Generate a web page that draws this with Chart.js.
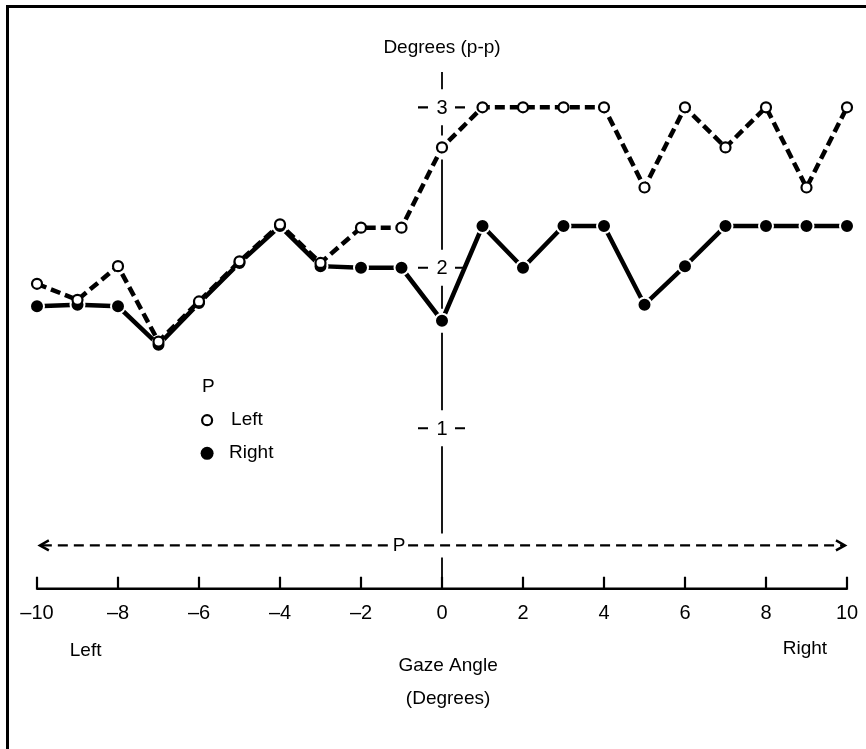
<!DOCTYPE html>
<html>
<head>
<meta charset="utf-8">
<script src="https://cdn.jsdelivr.net/npm/chart.js@4"></script>
<style>
  html, body { margin: 0; padding: 0; background: #fff; overflow: hidden; }
  #wrap { position: relative; width: 866px; height: 749px; }
  #frame { position: absolute; left: 6px; top: 5px; width: 900px; height: 800px;
           border-left: 3px solid #000; border-top: 3px solid #000; pointer-events: none; }
  canvas { position: absolute; left: 0; top: 0; }
</style>
</head>
<body>
<div id="wrap">
  <canvas id="gazeChart" width="866" height="749"></canvas>
  <div id="frame"></div>
</div>
<script>
// gaze angle (degrees), one reading per degree
const gazeAngles = [-10, -9, -8, -7, -6, -5, -4, -3, -2, -1, 0, 1, 2, 3, 4, 5, 6, 7, 8, 9, 10];
// peak-to-peak amplitude, degrees
const leftEye  = [1.90, 1.80, 2.01, 1.54, 1.79, 2.04, 2.27, 2.03, 2.25, 2.25, 2.75, 3.00, 3.00, 3.00, 3.00, 2.50, 3.00, 2.75, 3.00, 2.50, 3.00];
const rightEye = [1.76, 1.77, 1.76, 1.52, 1.78, 2.03, 2.26, 2.01, 2.00, 2.00, 1.67, 2.26, 2.00, 2.26, 2.26, 1.77, 2.01, 2.26, 2.26, 2.26, 2.26];

const xTickValues = [-10, -8, -6, -4, -2, 0, 2, 4, 6, 8, 10];
const xTickLabels = ['\u201310', '\u20138', '\u20136', '\u20134', '\u20132', '0', '2', '4', '6', '8', '10'];
const yTickValues = [1, 2, 3];
const pLineLevel = 0.27;   // level of the dashed "P" line

const FONT = "'Liberation Sans', Arial, Helvetica, sans-serif";

function drawVLine(ctx, x0, top, bottom, gaps) {
    gaps.sort((a, b) => a[0] - b[0]);
    let cur = top;
    ctx.beginPath();
    gaps.forEach(([c, h]) => {
        if (c - h > cur) { ctx.moveTo(x0, cur); ctx.lineTo(x0, c - h); }
        cur = Math.max(cur, c + h);
    });
    if (cur < bottom) { ctx.moveTo(x0, cur); ctx.lineTo(x0, bottom); }
    ctx.stroke();
}

const decorations = {
    id: 'decorations',
    beforeDatasetsDraw(chart) {
        const { ctx, scales: { x, y } } = chart;
        const cx = x.getPixelForValue(0);
        const base = y.getPixelForValue(0);
        const pY = y.getPixelForValue(pLineLevel);
        ctx.save();
        ctx.strokeStyle = '#000';
        ctx.fillStyle = '#000';

        // central vertical axis, broken at labels, P line and points on it
        const zeroIdx = gazeAngles.indexOf(0);
        const gaps = yTickValues.map(v => [y.getPixelForValue(v), 18]);
        gaps.push([pY, 12]);
        gaps.push([y.getPixelForValue(leftEye[zeroIdx]), 12]);
        gaps.push([y.getPixelForValue(rightEye[zeroIdx]), 12]);
        ctx.lineWidth = 1.8;
        drawVLine(ctx, cx, y.getPixelForValue(3.22), base, gaps);

        // y labels "- n -"
        ctx.font = '20px ' + FONT;
        ctx.textAlign = 'center';
        ctx.textBaseline = 'middle';
        ctx.lineWidth = 2.2;
        yTickValues.forEach(v => {
            const py = y.getPixelForValue(v);
            ctx.fillText(String(v), cx, py + 1);
            ctx.beginPath();
            ctx.moveTo(cx - 24, py); ctx.lineTo(cx - 14, py);
            ctx.moveTo(cx + 13, py); ctx.lineTo(cx + 23, py);
            ctx.stroke();
        });

        // axis title on top
        ctx.font = '19px ' + FONT;
        ctx.fillText('Degrees (p-p)', cx, y.getPixelForValue(3.37));

        // x axis baseline with upward ticks
        ctx.lineWidth = 2.5;
        ctx.beginPath();
        ctx.moveTo(x.getPixelForValue(-10), base);
        ctx.lineTo(x.getPixelForValue(10), base);
        ctx.stroke();
        ctx.lineWidth = 2.2;
        ctx.beginPath();
        xTickValues.forEach(v => {
            const px = x.getPixelForValue(v);
            ctx.moveTo(px, base + 1);
            ctx.lineTo(px, base - 12);
        });
        ctx.stroke();
        ctx.font = '20px ' + FONT;
        xTickValues.forEach((v, i) => {
            ctx.fillText(xTickLabels[i], x.getPixelForValue(v), base + 25);
        });
        ctx.font = '19px ' + FONT;
        ctx.fillText('Left', x.getPixelForValue(-8.8), base + 62);
        ctx.fillText('Right', x.getPixelForValue(8.96), base + 60);
        ctx.fillText('Gaze Angle', x.getPixelForValue(0.15), base + 77);
        ctx.fillText('(Degrees)', x.getPixelForValue(0.15), base + 110);

        // dashed P line with arrow heads
        const x1 = x.getPixelForValue(-9.93), x2 = x.getPixelForValue(9.95);
        const pX = x.getPixelForValue(-1.06);
        ctx.lineWidth = 2.2;
        ctx.setLineDash([10, 6]);
        ctx.beginPath();
        ctx.moveTo(x1 + 2, pY); ctx.lineTo(pX - 10, pY);
        ctx.moveTo(pX + 9, pY); ctx.lineTo(x2 - 2, pY);
        ctx.stroke();
        ctx.setLineDash([]);
        ctx.lineWidth = 2.4;
        ctx.beginPath();
        ctx.moveTo(x1 + 9, pY - 5); ctx.lineTo(x1, pY); ctx.lineTo(x1 + 9, pY + 5);
        ctx.moveTo(x2 - 9, pY - 5); ctx.lineTo(x2, pY); ctx.lineTo(x2 - 9, pY + 5);
        ctx.stroke();
        ctx.fillText('P', pX, pY);

        // key
        const kx = x.getPixelForValue(-5.8);
        ctx.textAlign = 'left';
        ctx.fillText('P', kx - 5, y.getPixelForValue(1.26));
        const lY = y.getPixelForValue(1.05), rY = y.getPixelForValue(0.85);
        ctx.lineWidth = 2.2;
        ctx.beginPath();
        ctx.arc(kx, lY, 5, 0, Math.PI * 2);
        ctx.stroke();
        ctx.fillText('Left', kx + 24, lY);
        ctx.beginPath();
        ctx.arc(kx, rY + 1, 6.5, 0, Math.PI * 2);
        ctx.fill();
        ctx.fillText('Right', kx + 22, rY);
        ctx.restore();
    }
};

new Chart(document.getElementById('gazeChart'), {
    type: 'scatter',
    data: {
        datasets: [
            {
                label: 'Left',
                data: gazeAngles.map((a, i) => ({ x: a, y: leftEye[i] })),
                showLine: true,
                borderColor: '#000',
                borderWidth: 4.5,
                borderDash: [10, 5],
                pointRadius: 5,
                pointBorderWidth: 2.2,
                pointBorderColor: '#000',
                pointBackgroundColor: '#fff',
                clip: false
            },
            {
                label: 'Right',
                data: gazeAngles.map((a, i) => ({ x: a, y: rightEye[i] })),
                showLine: true,
                borderColor: '#000',
                borderWidth: 4.5,
                pointRadius: 7,
                pointBorderWidth: 2,
                pointBorderColor: '#fff',
                pointBackgroundColor: '#000',
                clip: false
            }
        ]
    },
    options: {
        responsive: false,
        animation: false,
        events: [],
        layout: { padding: { left: 37, right: 19, top: 11, bottom: 64 } },
        plugins: { legend: { display: false }, tooltip: { enabled: false } },
        scales: {
            x: { type: 'linear', min: -10, max: 10, display: false },
            y: { min: -0.6, max: 3.6, display: false }
        }
    },
    plugins: [decorations]
});
</script>
</body>
</html>
